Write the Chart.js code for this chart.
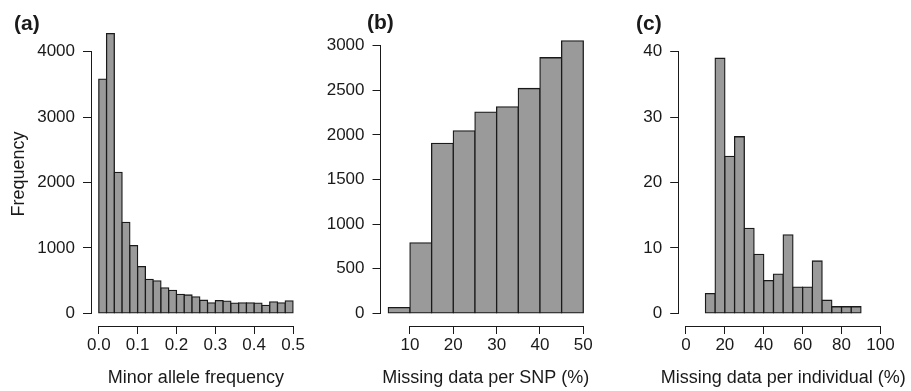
<!DOCTYPE html>
<html lang="en">
<head>
<meta charset="UTF-8">
<title>SNP histograms</title>
<style>
  body { margin: 0; background: #fff; }
  #wrap { position: relative; width: 911px; height: 391px; overflow: hidden; background: #fff; }
  canvas { position: absolute; top: 0; }
</style>
</head>
<body>
<div id="wrap">
  <canvas id="chartA" width="310" height="391" style="left:0px"></canvas>
  <canvas id="chartB" width="300" height="391" style="left:310px"></canvas>
  <canvas id="chartC" width="301" height="391" style="left:610px"></canvas>
</div>
<script src="https://cdn.jsdelivr.net/npm/chart.js"></script>
<script>
// (a) minor allele frequency, bins 0.02 wide
const mafBins = [0.00, 0.02, 0.04, 0.06, 0.08, 0.10, 0.12, 0.14, 0.16, 0.18, 0.20, 0.22, 0.24,
                 0.26, 0.28, 0.30, 0.32, 0.34, 0.36, 0.38, 0.40, 0.42, 0.44, 0.46, 0.48];
const mafCounts = [3580, 4275, 2155, 1390, 1035, 715, 520, 495, 390, 350, 290, 280, 250,
                   200, 160, 195, 185, 155, 160, 160, 155, 120, 175, 160, 190];
const mafTicksX = [0, 0.1, 0.2, 0.3, 0.4, 0.5];
const mafTicksY = [0, 1000, 2000, 3000, 4000];

// (b) missing data per SNP, bins 5 wide
const snpBins = [5, 10, 15, 20, 25, 30, 35, 40, 45];
const snpCounts = [65, 790, 1905, 2045, 2255, 2315, 2520, 2865, 3055];
const snpTicksX = [10, 20, 30, 40, 50];
const snpTicksY = [0, 500, 1000, 1500, 2000, 2500, 3000];

// (c) missing data per individual, bins 5 wide
const indBins = [10, 15, 20, 25, 30, 35, 40, 45, 50, 55, 60, 65, 70, 75, 80, 85];
const indCounts = [3, 39, 24, 27, 13, 9, 5, 6, 12, 4, 4, 8, 2, 1, 1, 1];
const indTicksX = [0, 20, 40, 60, 80, 100];
const indTicksY = [0, 10, 20, 30, 40];

const ink = '#1a1a1a';
const fontFamily = '"Liberation Sans", Arial, Helvetica, sans-serif';

// R style axes: line only spans first..last tick, panel letter, x title
// (x title drawn here so a long one is not squeezed to the axis width)
const rAxes = {
  id: 'rAxes',
  afterDraw(chart, args, opts) {
    const {ctx, chartArea, scales} = chart;
    const al = v => Math.round(v - 0.5) + 0.5;
    const x = scales.x, y = scales.y;
    ctx.save();
    ctx.strokeStyle = ink;
    ctx.lineWidth = 1;
    ctx.beginPath();
    const xl = al(chartArea.left);
    ctx.moveTo(xl, al(y.getPixelForValue(y.ticks[0].value)) + 0.5);
    ctx.lineTo(xl, al(y.getPixelForValue(y.ticks[y.ticks.length - 1].value)) - 0.5);
    const yb = al(chartArea.bottom);
    ctx.moveTo(al(x.getPixelForValue(x.ticks[0].value)) - 0.5, yb);
    ctx.lineTo(al(x.getPixelForValue(x.ticks[x.ticks.length - 1].value)) + 0.5, yb);
    ctx.stroke();

    ctx.fillStyle = ink;
    ctx.textBaseline = 'middle';
    ctx.font = '18px ' + fontFamily;
    ctx.textAlign = 'center';
    ctx.fillText(opts.xTitle, (chartArea.left + chartArea.right) / 2, chartArea.bottom + 52);

    ctx.font = 'bold 21px ' + fontFamily;
    ctx.textAlign = 'left';
    ctx.fillText(opts.letter, opts.letterX, opts.letterY);
    ctx.restore();
  }
};

function makeHist(id, p) {
  const half = p.binWidth / 2;
  const points = p.bins.map((b, i) => ({x: b + half, y: p.counts[i]}));
  const tickFont = {family: fontFamily, size: 17};
  const titleFont = {family: fontFamily, size: 18};
  const gridX = {display: true, offset: false, drawOnChartArea: false, drawTicks: true, tickLength: 8, color: ink, lineWidth: 1};
  const gridY = {display: true, offset: false, drawOnChartArea: false, drawTicks: true, tickLength: 8, color: ink, lineWidth: 1};

  return new Chart(document.getElementById(id), {
    type: 'bar',
    data: {
      datasets: [{
        data: points,
        backgroundColor: '#9a9a9a',
        borderColor: ink,
        borderWidth: 1.3,
        borderSkipped: false,
        inflateAmount: 0.65,
        barPercentage: 1,
        categoryPercentage: 1
      }]
    },
    options: {
      responsive: false,
      animation: false,
      events: [],
      layout: {padding: {left: 0, right: p.padRight, top: p.padTop, bottom: 0}},
      plugins: {
        legend: {display: false},
        tooltip: {enabled: false},
        rAxes: {letter: p.letter, letterX: p.letterX, letterY: p.letterY, xTitle: p.xTitle}
      },
      scales: {
        x: {
          type: 'linear',
          min: p.xMin, max: p.xMax,
          offset: false,
          afterFit: s => { s.height = 65; },
          afterBuildTicks: s => { s.ticks = p.ticksX.map(v => ({value: v})); },
          ticks: {callback: p.fmtX, font: tickFont, color: ink, padding: 1, maxRotation: 0, autoSkip: false},
          grid: gridX,
          border: {display: false}
        },
        y: {
          min: p.yMin, max: p.yMax,
          afterFit: s => { s.width = p.yWidth; },
          afterBuildTicks: s => { s.ticks = p.ticksY.map(v => ({value: v})); },
          ticks: {callback: v => String(v), font: tickFont, color: ink, padding: 8, autoSkip: false},
          grid: gridY,
          border: {display: false},
          title: {display: !!p.yTitle, text: p.yTitle || '', font: titleFont, color: ink, padding: {top: 8, bottom: 0}}
        }
      }
    },
    plugins: [rAxes]
  });
}

makeHist('chartA', {
  bins: mafBins, counts: mafCounts, binWidth: 0.02,
  ticksX: mafTicksX, ticksY: mafTicksY, fmtX: v => v.toFixed(1),
  xMin: -0.02, xMax: 0.52, yMin: -194, yMax: 4454,
  yWidth: 91, padRight: 9.2, padTop: 22,
  xTitle: 'Minor allele frequency', yTitle: 'Frequency',
  letter: '(a)', letterX: 14, letterY: 24
});

makeHist('chartB', {
  bins: snpBins, counts: snpCounts, binWidth: 5,
  ticksX: snpTicksX, ticksY: snpTicksY, fmtX: v => String(v),
  xMin: 3.2, xMax: 51.8, yMin: -142, yMax: 3176,
  yWidth: 70.5, padRight: 18.9, padTop: 30,
  xTitle: 'Missing data per SNP (%)',
  letter: '(b)', letterX: 57, letterY: 23
});

makeHist('chartC', {
  bins: indBins, counts: indCounts, binWidth: 5,
  ticksX: indTicksX, ticksY: indTicksY, fmtX: v => String(v),
  xMin: -4, xMax: 104, yMin: -1.94, yMax: 40.57,
  yWidth: 68.2, padRight: 22.8, padTop: 48,
  xTitle: 'Missing data per individual (%)',
  letter: '(c)', letterX: 26, letterY: 24
});
</script>
</body>
</html>
